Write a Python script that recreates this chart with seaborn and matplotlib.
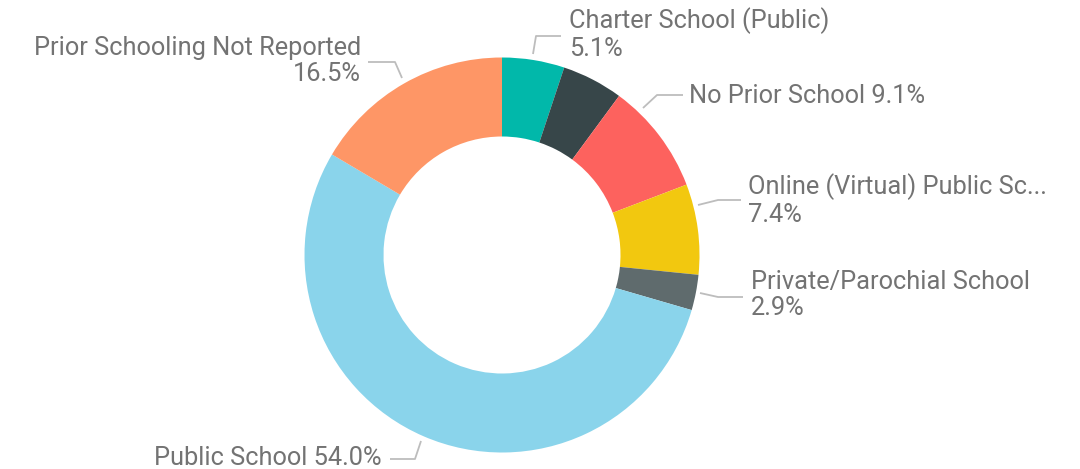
import matplotlib
matplotlib.use("Agg")
import matplotlib.pyplot as plt
import seaborn as sns

# --- dados do gráfico ---
categorias = [
    "Charter School (Public)",
    "Home School",
    "No Prior School",
    "Online (Virtual) Public Sc...",
    "Private/Parochial School",
    "Public School",
    "Prior Schooling Not Reported",
]
percentuais = [5.1, 5.0, 9.1, 7.4, 2.9, 54.0, 16.5]
cores = ["#01B8AA", "#374649", "#FD625E", "#F2C80F", "#5F6B6D", "#8AD4EB", "#FE9666"]

# rótulos visíveis: (quebra de linha?, alinhamento, posição do texto, pontos da linha guia) em pixels
rotulos = {
    "Charter School (Public)": (True, "left", (569, 34), [(533, 54), (536, 36), (561, 36)]),
    "No Prior School": (False, "left", (689, 96), [(643, 108), (657, 95), (683, 95)]),
    "Online (Virtual) Public Sc...": (True, "left", (748, 200), [(698, 205), (718, 200), (741, 200)]),
    "Private/Parochial School": (True, "left", (751, 295), [(700, 293), (718, 297), (743, 297)]),
    "Public School": (False, "right", (382, 458), [(421, 441), (415, 459), (390, 459)]),
    "Prior Schooling Not Reported": (True, "right", (361, 61), [(402, 78), (395, 62), (368, 62)]),
}

sns.set_theme(style="white")
plt.rcParams["font.family"] = ["Roboto", "DejaVu Sans"]

W, H = 1080, 469
CX, CY, R = 502, 255, 197.5


def px(x, y):
    return ((x - CX) / R, (CY - y) / R)


fig = plt.figure(figsize=(W / 100, H / 100), dpi=100)
ax = fig.add_axes([0, 0, 1, 1])
ax.pie(
    percentuais,
    colors=cores,
    startangle=90,
    counterclock=False,
    radius=1,
    wedgeprops=dict(width=0.4, edgecolor="none"),
)
ax.set_xlim(-CX / R, (W - CX) / R)
ax.set_ylim(-(H - CY) / R, CY / R)
ax.set_aspect("equal")
ax.axis("off")

for cat, pct in zip(categorias, percentuais):
    if cat not in rotulos:
        continue
    quebra, ha, pos, linha = rotulos[cat]
    texto = f"{cat}\n{pct:.1f}%" if quebra else f"{cat} {pct:.1f}%"
    xs, ys = zip(*[px(x, y) for x, y in linha])
    ax.plot(xs, ys, color="#BDBDBD", lw=1.3, solid_capstyle="butt")
    tx, ty = px(*pos)
    ax.text(tx, ty, texto, ha=ha, va="center", fontsize=18.3, color="#737373",
            linespacing=1.12)

fig.savefig("out.png", dpi=100, facecolor="white")
